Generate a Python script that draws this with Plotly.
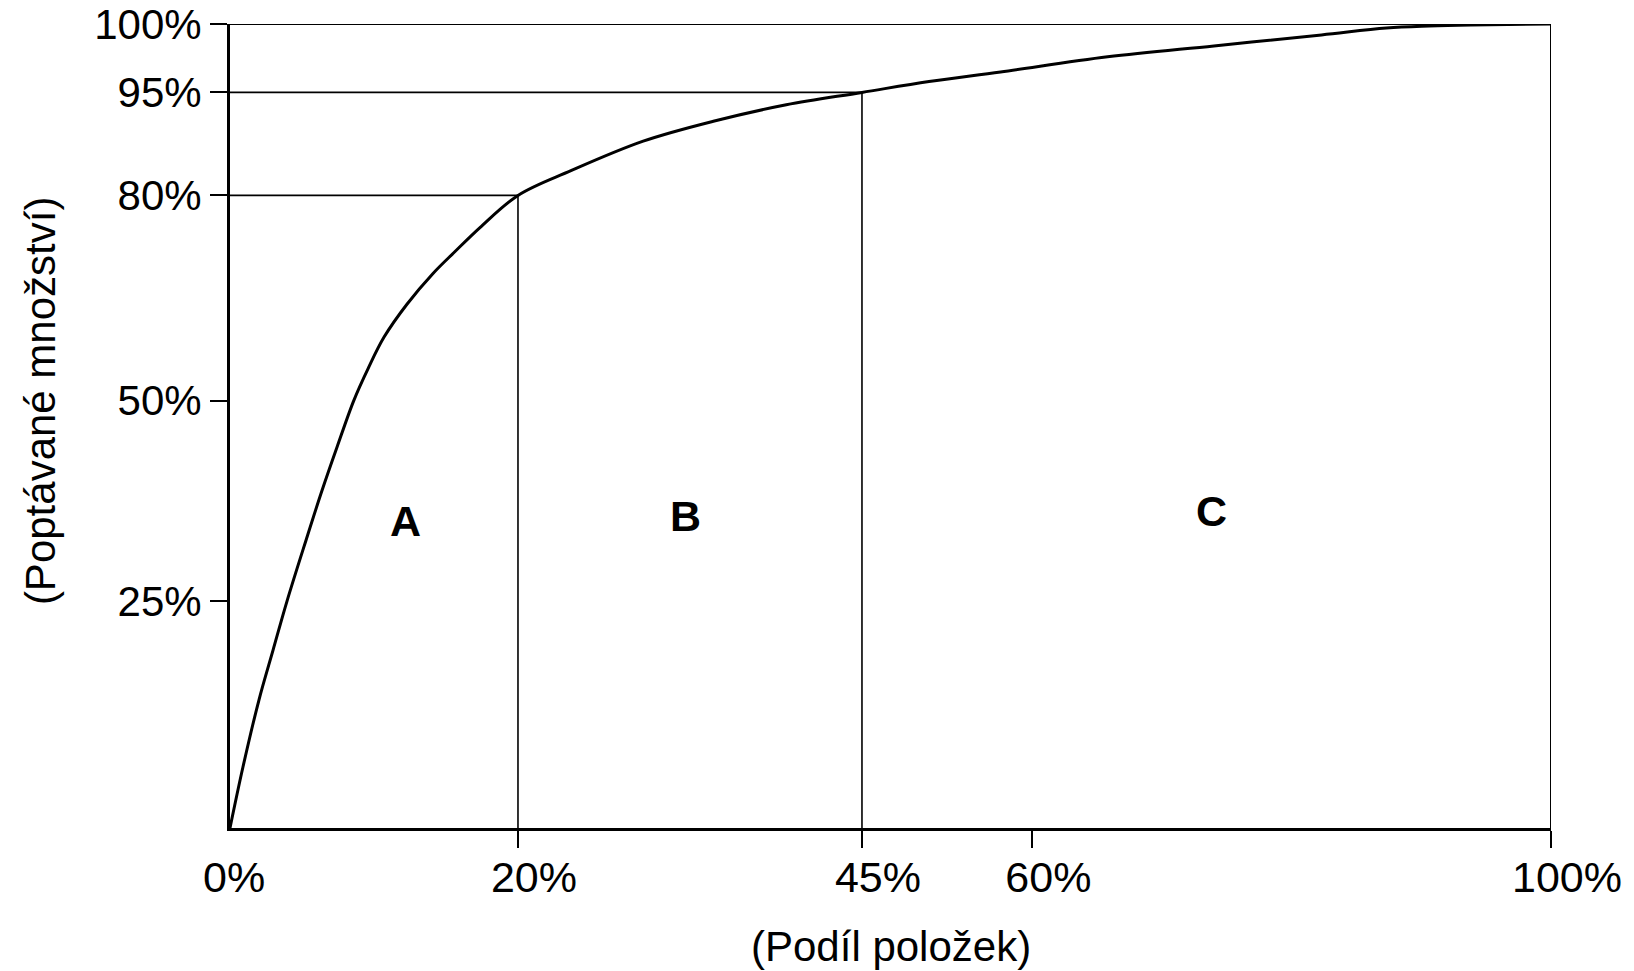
import numpy as np
import plotly.graph_objects as go

# ---------------- data ----------------
x_tick_values = [0, 20, 45, 60, 100]
x_tick_labels = ["0%\u00a0\u00a0", "20%", "45%", "60%", "100%"]
y_tick_values = [25, 50, 80, 95, 100]
y_tick_labels = ["25%", "50%", "80%", "95%", "100%"]

# cumulative share of items (%) vs cumulative demanded quantity (%)
share_items = [0, 0.90, 2.01, 2.99, 3.96, 5.28, 6.39, 7.43, 8.61, 9.59, 10.70,
               12.29, 14.10, 15.63, 17.36, 20, 23.85, 29.1, 34.2, 39.5, 45, 50.9,
               57.2, 65.8, 74.0, 82.3, 87.3, 90.6, 93.8, 100]
share_demand = [0, 6.72, 14.1, 19.6, 25.0, 32.6, 38.8, 44.2, 50.1, 54.7, 59.3,
                64.1, 68.6, 71.8, 75.3, 80, 83.6, 87.9, 90.8, 93.2, 95, 95.8,
                96.5, 97.6, 98.4, 99.2, 99.7, 99.85, 99.93, 100]

boundary_items = [20, 45]
boundary_demand = [80, 95]

class_labels = ["A", "B", "C"]
class_label_x = [12.2, 32.2, 73.8]
class_label_y = [35.0, 35.6, 36.2]

x_title = "(Podíl položek)"
y_title = "(Poptávané množství)"

# ---------------- schematic (non-uniform) axis scales ----------------
X_SCALE_VALUES = [0, 20, 45, 60, 100]
X_SCALE_FRAC = [0, 0.2180, 0.4784, 0.6074, 1]
Y_SCALE_VALUES = [0, 25, 50, 80, 95, 100]
Y_SCALE_FRAC = [0, 0.2822, 0.5314, 0.7868, 0.9149, 1]


def sx(v):
    return np.interp(v, X_SCALE_VALUES, X_SCALE_FRAC)


def sy(v):
    return np.interp(v, Y_SCALE_VALUES, Y_SCALE_FRAC)


FONT = "Liberation Sans, Arial, sans-serif"

fig = go.Figure()
fig.add_trace(go.Scatter(
    x=sx(share_items), y=sy(share_demand), mode="lines",
    line=dict(color="black", width=3, shape="spline", smoothing=1.0),
    cliponaxis=False, showlegend=False, hoverinfo="skip"))

shapes = []
for bx, by in zip(boundary_items, boundary_demand):
    shapes.append(dict(type="line", xref="x", yref="y", x0=sx(0), x1=sx(bx),
                       y0=sy(by), y1=sy(by), line=dict(color="black", width=1.6)))
    shapes.append(dict(type="line", xref="x", yref="y", x0=sx(bx), x1=sx(bx),
                       y0=sy(0), y1=sy(by), line=dict(color="black", width=1.6)))
shapes.append(dict(type="line", xref="x", yref="y", x0=sx(0), x1=sx(100),
                   y0=sy(100), y1=sy(100), line=dict(color="black", width=2)))
shapes.append(dict(type="line", xref="x", yref="y", x0=sx(100), x1=sx(100),
                   y0=sy(0), y1=sy(100), line=dict(color="black", width=2)))

annotations = []
for t, ax_, ay_ in zip(class_labels, class_label_x, class_label_y):
    annotations.append(dict(x=float(sx(ax_)), y=float(sy(ay_)), xref="x", yref="y",
                            xanchor="center", yanchor="middle",
                            text="<b>" + t + "</b>", showarrow=False,
                            font=dict(family=FONT, size=43, color="black")))
annotations.append(dict(x=0.500, y=-0.148, xref="paper", yref="paper", text=x_title,
                        xanchor="center", yanchor="middle",
                        showarrow=False, font=dict(family=FONT, size=42, color="black")))
annotations.append(dict(x=-0.1438, y=0.531, xref="paper", yref="paper", text=y_title,
                        xanchor="center", yanchor="middle",
                        textangle=-90, showarrow=False,
                        font=dict(family=FONT, size=42, color="black")))

fig.update_layout(
    width=1634, height=971,
    margin=dict(l=230, r=83, t=24, b=143, autoexpand=False),
    paper_bgcolor="white", plot_bgcolor="white",
    shapes=shapes, annotations=annotations,
    xaxis=dict(range=[0, 1], showgrid=False, zeroline=False, automargin=False,
               showline=True, linecolor="black", linewidth=3,
               tickmode="array", tickvals=sx(x_tick_values), ticktext=x_tick_labels,
               ticks="", ticklabelshift=16, ticklabelstandoff=9,
               tickfont=dict(family=FONT, size=43, color="black"),
               minor=dict(tickmode="array", tickvals=sx(x_tick_values[1:]),
                          ticks="outside", ticklen=17, tickwidth=1.6, tickcolor="black")),
    yaxis=dict(range=[0, 1], showgrid=False, zeroline=False, automargin=False,
               showline=True, linecolor="black", linewidth=3,
               tickmode="array", tickvals=sy(y_tick_values), ticktext=y_tick_labels,
               ticks="outside", ticklen=17, tickwidth=1.6, tickcolor="black",
               tickfont=dict(family=FONT, size=42, color="black")),
)

# remove the browser's default 8 px body margin so the figure fills the window exactly
fig.write_html("out.html", config={"displayModeBar": False},
               post_script="document.body.style.margin='0';")
